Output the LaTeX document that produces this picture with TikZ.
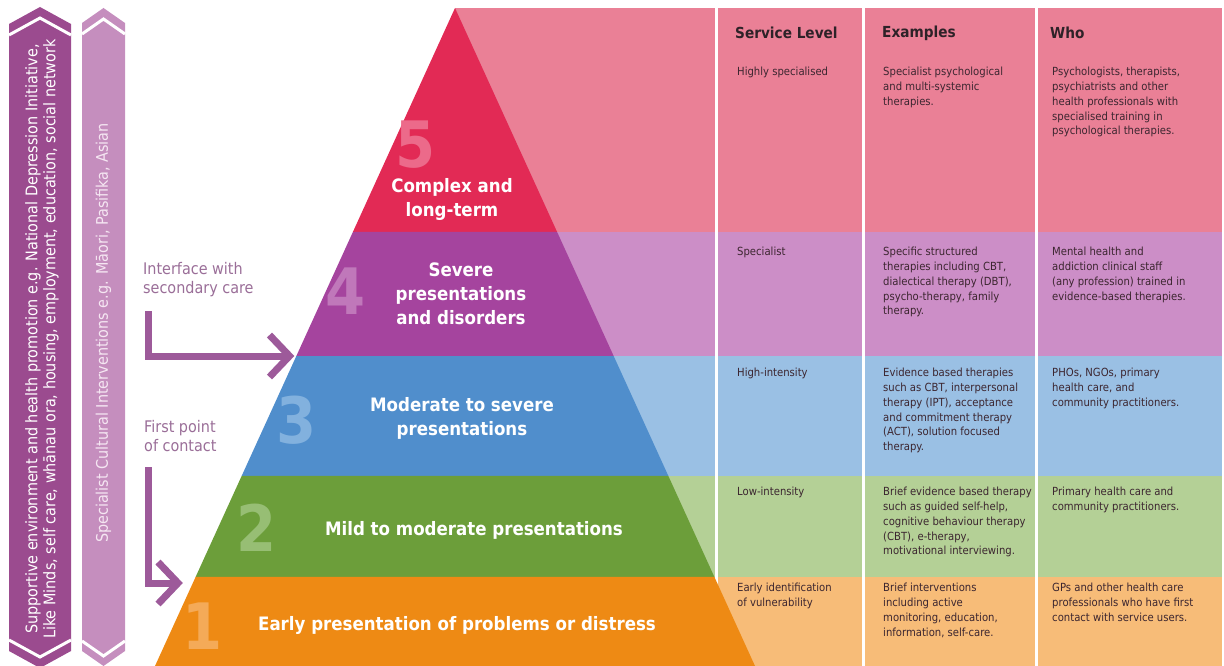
\documentclass[tikz,border=0pt]{standalone}
\usepackage{fontspec}
\setmainfont{DejaVu Sans Condensed}
\usepackage{xcolor}
\usepackage{tikz}
\usetikzlibrary{arrows.meta,calc,positioning}
\definecolor{lvfive}{HTML}{E22A55}
\definecolor{lvfivelt}{HTML}{EA8096}
\definecolor{numfive}{HTML}{EC6A8A}
\definecolor{lvfour}{HTML}{A5449E}
\definecolor{lvfourlt}{HTML}{CC8EC7}
\definecolor{numfour}{HTML}{C078BA}
\definecolor{lvthree}{HTML}{508ECC}
\definecolor{lvthreelt}{HTML}{9AC0E4}
\definecolor{numthree}{HTML}{82B1DE}
\definecolor{lvtwo}{HTML}{6C9E3A}
\definecolor{lvtwolt}{HTML}{B4D096}
\definecolor{numtwo}{HTML}{97BE74}
\definecolor{lvone}{HTML}{EE8A14}
\definecolor{lvonelt}{HTML}{F7BC78}
\definecolor{numone}{HTML}{F4AA58}
\definecolor{bannerdark}{HTML}{9B4B8F}
\definecolor{bannerlight}{HTML}{C58EBE}
\definecolor{bannertext}{HTML}{F5E6F2}
\definecolor{arrowcol}{HTML}{9D5A9A}
\definecolor{notetext}{HTML}{9A6E98}
\definecolor{celltext}{HTML}{3C2630}
\definecolor{headtext}{HTML}{2E2228}

\begin{document}
\begin{tikzpicture}[
    x=1pt, y=-1pt,
    nosep/.style={inner sep=0},
    lvlabel/.style={text=white, align=center, font=\fontsize{18.5}{24}\selectfont\bfseries},
    lvnum/.style={font=\fontsize{64}{64}\selectfont\bfseries},
    header/.style={nosep, anchor=west, text=headtext, font=\fontsize{15.2}{17}\selectfont\bfseries},
    cell/.style={nosep, anchor=north west, align=left, text=celltext, font=\fontsize{11.2}{14.8}\selectfont},
    note/.style={nosep, anchor=north west, align=left, text=notetext, font=\fontsize{16}{19.5}\selectfont},
    banner/.style={nosep, rotate=90, align=center, text=white, font=\fontsize{16}{18}\selectfont},
    pointer/.style={draw=arrowcol, line width=7pt, -{Straight Barb[length=20pt, width=42pt]}},
    colrule/.style={draw=white, line width=3pt}]
\useasboundingbox (0,0) rectangle (1224,666);

\coordinate (apex) at (455,8);
\coordinate (baseL) at (155,666);
\coordinate (baseR) at (755,666);
\coordinate (l54) at ($(apex)!0.3404!(baseL)$);
\coordinate (r54) at ($(apex)!0.3404!(baseR)$);
\coordinate (l43) at ($(apex)!0.5289!(baseL)$);
\coordinate (r43) at ($(apex)!0.5289!(baseR)$);
\coordinate (l32) at ($(apex)!0.7112!(baseL)$);
\coordinate (r32) at ($(apex)!0.7112!(baseR)$);
\coordinate (l21) at ($(apex)!0.8647!(baseL)$);
\coordinate (r21) at ($(apex)!0.8647!(baseR)$);

\path[fill=lvfivelt] (apex) rectangle (1222,232);
\path[fill=lvfourlt] (455,232) rectangle (1222,356);
\path[fill=lvthreelt] (455,356) rectangle (1222,476);
\path[fill=lvtwolt] (455,476) rectangle (1222,577);
\path[fill=lvonelt] (455,577) rectangle (1222,666);

\path[colrule] (716,8) -- (716,666);
\path[colrule] (863,8) -- (863,666);
\path[colrule] (1036,8) -- (1036,666);

\path[fill=lvfive] (apex) -- (r54) -- (l54) -- cycle;
\path[fill=lvfour] (l54) -- (r54) -- (r43) -- (l43) -- cycle;
\path[fill=lvthree] (l43) -- (r43) -- (r32) -- (l32) -- cycle;
\path[fill=lvtwo] (l32) -- (r32) -- (r21) -- (l21) -- cycle;
\path[fill=lvone] (l21) -- (r21) -- (baseR) -- (baseL) -- cycle;

\node[lvnum, text=numfive] (n5) at (416,145) {5};
\node[lvlabel] (t5) at (452,199) {Complex and\\long-term};
\node[lvnum, text=numfour] (n4) at (346,291) {4};
\node[lvlabel] (t4) at (461,294) {Severe\\presentations\\and disorders};
\node[lvnum, text=numthree] (n3) at (297,420) {3};
\node[lvlabel] (t3) at (462,418) {Moderate to severe\\presentations};
\node[lvnum, text=numtwo] (n2) at (257,528) {2};
\node[lvlabel] (t2) at (474,530) {Mild to moderate presentations};
\node[lvnum, text=numone] (n1) at (203,626) {1};
\node[lvlabel] (t1) at (457,625) {Early presentation of problems or distress};

\node[header] (hlevel) at (735,33) {Service Level};
\node[header] (hexam) at (882,33) {Examples};
\node[header] (hwho) at (1050,33) {Who};

\node[cell] (lv5) at (737,67) {Highly specialised};
\node[cell] (ex5) at (883,67) {Specialist psychological\\and multi-systemic\\therapies.};
\node[cell] (who5) at (1052,67) {Psychologists, therapists,\\psychiatrists and other\\health professionals with\\specialised training in\\psychological therapies.};
\node[cell] (lv4) at (737,247) {Specialist};
\node[cell] (ex4) at (883,247) {Specific structured\\therapies including CBT,\\dialectical therapy (DBT),\\psycho-therapy, family\\therapy.};
\node[cell] (who4) at (1052,247) {Mental health and\\addiction clinical staff\\(any profession) trained in\\evidence-based therapies.};
\node[cell] (lv3) at (737,368) {High-intensity};
\node[cell] (ex3) at (883,368) {Evidence based therapies\\such as CBT, interpersonal\\therapy (IPT), acceptance\\and commitment therapy\\(ACT), solution focused\\therapy.};
\node[cell] (who3) at (1052,368) {PHOs, NGOs, primary\\health care, and\\community practitioners.};
\node[cell] (lv2) at (737,487) {Low-intensity};
\node[cell] (ex2) at (883,487) {Brief evidence based therapy\\such as guided self-help,\\cognitive behaviour therapy\\(CBT), e-therapy,\\motivational interviewing.};
\node[cell] (who2) at (1052,487) {Primary health care and\\community practitioners.};
\node[cell] (lv1) at (737,583) {Early identification\\of vulnerability};
\node[cell] (ex1) at (883,583) {Brief interventions\\including active\\monitoring, education,\\information, self-care.};
\node[cell] (who1) at (1052,583) {GPs and other health care\\professionals who have first\\contact with service users.};

\path[fill=bannerdark] (40,7) -- (71,24) -- (71,651) -- (40,668) -- (9,651) -- (9,24) -- cycle;
\path[draw=white, line width=3pt] (9,35) -- (40,18) -- (71,35);
\path[draw=white, line width=3pt] (9,640) -- (40,657) -- (71,640);
\path[fill=bannerlight] (103.5,8) -- (125,23) -- (125,651) -- (103.5,666) -- (82,651) -- (82,23) -- cycle;
\path[draw=white, line width=3pt] (82,34) -- (103.5,19) -- (125,34);
\path[draw=white, line width=3pt] (82,641) -- (103.5,656) -- (125,641);

\node[banner] (support) at (42,339) {Supportive environment and health promotion e.g. National Depression Initiative,\\Like Minds, self care, whānau ora, housing, employment, education, social network};
\node[banner, text=bannertext] (cultural) at (103.5,333) {Specialist Cultural Interventions e.g. Māori, Pasifika, Asian};

\node[note] (iface) at (143,262) {Interface with\\secondary care};
\node[note] (fpoint) at (144,420) {First point\\of contact};

\coordinate (fptip) at ($(apex)!0.8739!(baseL)$);
\path[pointer, shorten >=2pt] ([xshift=5pt, yshift=-14pt]iface.south west) |- (l43);
\path[pointer, shorten >=10pt] ([xshift=4pt, yshift=-15pt]fpoint.south west) |- (fptip);

\end{tikzpicture}
\end{document}
